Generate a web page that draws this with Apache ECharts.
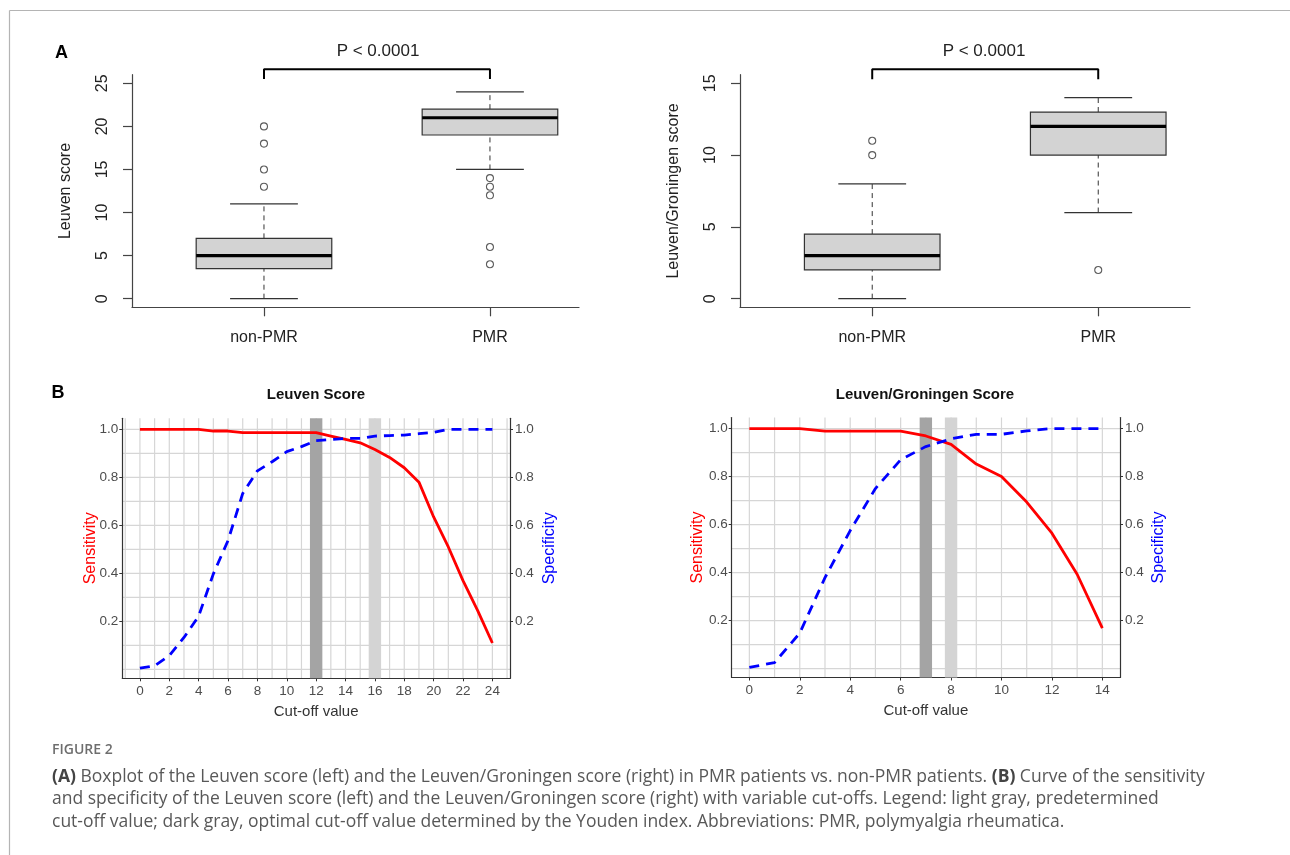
<!DOCTYPE html>
<html>
<head>
<meta charset="utf-8">
<title>Figure 2</title>
<script src="https://cdn.jsdelivr.net/npm/echarts@6.0.0/dist/echarts.min.js"></script>
<style>
  html, body { margin: 0; padding: 0; background: #fff; }
  #chart { width: 1290px; height: 855px; }
</style>
</head>
<body>
<div id="chart"></div>
<script>
// ---- data ----
var boxCats = ['non-PMR', 'PMR']
// [position, lower whisker, Q1, median, Q3, upper whisker]
var leuvenBox = [[1, 0, 3.5, 5, 7, 11], [2, 15, 19, 21, 22, 24]]
var leuvenOut = [[1, 13], [1, 15], [1, 18], [1, 20], [2, 14], [2, 13], [2, 12], [2, 6], [2, 4]]
var lgBox = [[1, 0, 2, 3, 4.5, 8], [2, 6, 10, 12, 13, 14]]
var lgOut = [[1, 10], [1, 11], [2, 2]]
var leuvenTicks = [0, 5, 10, 15, 20, 25]
var lgTicks = [0, 5, 10, 15]

var leuvenCut = [0, 1, 2, 3, 4, 5, 6, 7, 8, 9, 10, 11, 12, 13, 14, 15, 16, 17, 18, 19, 20, 21, 22, 23, 24]
var leuvenSens = [1, 1, 1, 1, 1, 0.993, 0.993, 0.986, 0.986, 0.986, 0.986, 0.986, 0.986, 0.972, 0.958, 0.944, 0.916, 0.883, 0.84, 0.78, 0.635, 0.51, 0.37, 0.245, 0.11]
var leuvenSpec = [0.005, 0.015, 0.057, 0.133, 0.222, 0.398, 0.537, 0.733, 0.827, 0.865, 0.907, 0.928, 0.953, 0.958, 0.962, 0.962, 0.972, 0.974, 0.976, 0.982, 0.987, 1, 1, 1, 1]
var lgCut = [0, 1, 2, 3, 4, 5, 6, 7, 8, 9, 10, 11, 12, 13, 14]
var lgSens = [1, 1, 1, 0.989, 0.989, 0.989, 0.989, 0.969, 0.934, 0.852, 0.8, 0.694, 0.564, 0.393, 0.169]
var lgSpec = [0.005, 0.025, 0.148, 0.379, 0.575, 0.75, 0.87, 0.925, 0.957, 0.976, 0.976, 0.99, 1, 1, 1]

var leuvenYouden = 12
var leuvenPre = 16
var lgYouden = 7
var lgPre = 8

var probTicks = [0.2, 0.4, 0.6, 0.8, 1.0]
var leuvenXTicks = [0, 2, 4, 6, 8, 10, 12, 14, 16, 18, 20, 22, 24]
var lgXTicks = [0, 2, 4, 6, 8, 10, 12, 14]

var FONT = 'Liberation Sans, Arial, sans-serif'

// the ggplot tick labels are narrow; use a narrow face if there is one
function hasFont (name) {
  var ctx = document.createElement('canvas').getContext('2d')
  ctx.font = '20px monospace'
  var base = ctx.measureText('0.123456789 abc').width
  ctx.font = '20px "' + name + '", monospace'
  return ctx.measureText('0.123456789 abc').width !== base
}
var NARROW = hasFont('Liberation Sans Narrow')
var TICKFONT = NARROW ? '"Liberation Sans Narrow", sans-serif' : FONT
var TICKSIZE = NARROW ? 15.5 : 13.5

// grid lines of the ggplot panels (every unit / every 0.1)
function range (a, b, step) {
  var out = []
  for (var v = a; v <= b + 1e-9; v += step) out.push(+v.toFixed(2))
  return out
}
var leuvenGridX = range(-1, 25, 1)
var lgGridX = range(0, 14, 1)
var probGrid = range(0, 1, 0.1)

// ---- render helpers ----
function boxItem (params, api) {
  var x = api.value(0)
  var lo = api.coord([x, api.value(1)])
  var q1 = api.coord([x, api.value(2)])
  var md = api.coord([x, api.value(3)])
  var q3 = api.coord([x, api.value(4)])
  var hi = api.coord([x, api.value(5)])
  var hw = api.size([0.3, 0])[0]
  var cw = hw / 2
  var cx = lo[0]
  var ink = '#333'
  var dashed = { stroke: ink, lineWidth: 1, lineDash: [5, 4] }
  var solid = { stroke: ink, lineWidth: 1.2 }
  return {
    type: 'group',
    children: [
      { type: 'line', shape: { x1: cx, y1: lo[1], x2: cx, y2: q1[1] }, style: dashed },
      { type: 'line', shape: { x1: cx, y1: q3[1], x2: cx, y2: hi[1] }, style: dashed },
      { type: 'line', shape: { x1: cx - cw, y1: lo[1], x2: cx + cw, y2: lo[1] }, style: solid },
      { type: 'line', shape: { x1: cx - cw, y1: hi[1], x2: cx + cw, y2: hi[1] }, style: solid },
      { type: 'rect', shape: { x: cx - hw, y: q3[1], width: hw * 2, height: q1[1] - q3[1] }, style: { fill: '#d3d3d3', stroke: ink, lineWidth: 1.2 } },
      { type: 'line', shape: { x1: cx - hw, y1: md[1], x2: cx + hw, y2: md[1] }, style: { stroke: '#000', lineWidth: 3.2 } }
    ]
  }
}

function vGrid (params, api) {
  var cs = params.coordSys
  var p = api.coord([api.value(0), 0.5])
  return { type: 'line', shape: { x1: p[0], y1: cs.y, x2: p[0], y2: cs.y + cs.height }, style: { stroke: '#d6d6d6', lineWidth: 1.2 } }
}
function hGrid (params, api) {
  var cs = params.coordSys
  var p = api.coord([0, api.value(1)])
  return { type: 'line', shape: { x1: cs.x, y1: p[1], x2: cs.x + cs.width, y2: p[1] }, style: { stroke: '#d6d6d6', lineWidth: 1.2 } }
}
function bandItem (color) {
  return function (params, api) {
    var cs = params.coordSys
    var p = api.coord([api.value(0), 0.5])
    return { type: 'rect', shape: { x: p[0] - 6.2, y: cs.y, width: 12.4, height: cs.height }, style: { fill: color } }
  }
}

function zip (xs, ys) {
  return xs.map(function (x, i) { return [x, ys[i]] })
}

// ---- axes ----
function boxX (grid, min, max) {
  return {
    type: 'value', gridIndex: grid, min: min, max: max,
    axisLine: { onZero: false, lineStyle: { color: '#444', width: 1.2 } },
    axisTick: { customValues: [1, 2], length: 9, lineStyle: { color: '#444', width: 1.2 } },
    axisLabel: { customValues: [1, 2], margin: 22, color: '#222', fontSize: 16, fontFamily: FONT, formatter: function (v) { return boxCats[Math.round(v) - 1] } },
    splitLine: { show: false }
  }
}
function boxY (grid, min, max, ticks, name) {
  return {
    type: 'value', gridIndex: grid, min: min, max: max,
    name: name, nameLocation: 'middle', nameGap: 58, nameMoveOverlap: false,
    nameTextStyle: { color: '#222', fontSize: 16, fontFamily: FONT },
    axisLine: { show: true, onZero: false, lineStyle: { color: '#444', width: 1.2 } },
    axisTick: { show: true, customValues: ticks, length: 9, lineStyle: { color: '#444', width: 1.2 } },
    axisLabel: { customValues: ticks, rotate: 90, margin: 21, color: '#222', fontSize: 16, fontFamily: FONT },
    splitLine: { show: false }
  }
}
function cutX (grid, min, max, ticks) {
  return {
    type: 'value', gridIndex: grid, min: min, max: max,
    name: 'Cut-off value', nameLocation: 'middle', nameGap: 26, nameMoveOverlap: false,
    nameTextStyle: { color: '#333', fontSize: 15, fontFamily: FONT },
    axisLine: { onZero: false, lineStyle: { color: '#333', width: 1.2 } },
    axisTick: { customValues: ticks, length: 3, lineStyle: { color: '#333' } },
    axisLabel: { customValues: ticks, margin: 6, color: '#4d4d4d', fontSize: TICKSIZE, fontFamily: TICKFONT },
    splitLine: { show: false }
  }
}
function probY (grid, pos, name, color, gap) {
  return {
    type: 'value', gridIndex: grid, position: pos, min: -0.037, max: 1.046,
    name: name, nameLocation: 'middle', nameGap: gap, nameMoveOverlap: false,
    nameTextStyle: { color: color, fontSize: 16, fontFamily: FONT },
    axisLine: { show: true, onZero: false, lineStyle: { color: '#333', width: 1.2 } },
    axisTick: { show: true, customValues: probTicks, length: 3, lineStyle: { color: '#333' } },
    axisLabel: { customValues: probTicks, margin: pos === 'left' ? 4 : 5, color: '#4d4d4d', fontSize: TICKSIZE, fontFamily: TICKFONT, formatter: function (v) { return v.toFixed(1) } },
    splitLine: { show: false }
  }
}

// ---- series builders ----
function boxSeries (xi, yi, box, out, bracketLo, bracketHi) {
  return [
    { type: 'custom', xAxisIndex: xi, yAxisIndex: yi, data: box, renderItem: boxItem, silent: true, z: 2 },
    {
      type: 'scatter', xAxisIndex: xi, yAxisIndex: yi, data: out, symbol: 'circle', symbolSize: 7, silent: true, z: 3,
      itemStyle: { color: 'rgba(255,255,255,0)', borderColor: '#333', borderWidth: 1.1 }
    },
    {
      type: 'line', xAxisIndex: xi, yAxisIndex: yi, clip: false, showSymbol: false, silent: true, z: 3,
      data: [[1, bracketLo], [1, bracketHi], [2, bracketHi], [2, bracketLo]],
      lineStyle: { color: '#000', width: 2 }
    }
  ]
}
function cutSeries (xi, yl, yr, gridX, cut, sens, spec, youden, pre) {
  return [
    { type: 'custom', xAxisIndex: xi, yAxisIndex: yl, data: gridX.map(function (v) { return [v, 0.5] }), renderItem: vGrid, silent: true, z: 0 },
    { type: 'custom', xAxisIndex: xi, yAxisIndex: yl, data: probGrid.map(function (v) { return [0, v] }), renderItem: hGrid, silent: true, z: 0 },
    { type: 'custom', xAxisIndex: xi, yAxisIndex: yl, data: [[youden, 0.5]], renderItem: bandItem('#a4a4a4'), silent: true, z: 1 },
    { type: 'custom', xAxisIndex: xi, yAxisIndex: yl, data: [[pre, 0.5]], renderItem: bandItem('#d4d4d4'), silent: true, z: 1 },
    {
      name: 'Sensitivity', type: 'line', xAxisIndex: xi, yAxisIndex: yl, data: zip(cut, sens), showSymbol: false, silent: true, z: 4,
      lineStyle: { color: '#ff0000', width: 2.8 }
    },
    {
      name: 'Specificity', type: 'line', xAxisIndex: xi, yAxisIndex: yr, data: zip(cut, spec), showSymbol: false, silent: true, z: 4,
      lineStyle: { color: '#0000ff', width: 2.8, type: [10, 7] }
    }
  ]
}

function label (text, x, y, size, weight, color, align) {
  return {
    type: 'text', x: x, y: y, silent: true,
    style: { text: text, fontSize: size, fontWeight: weight || 'normal', fontFamily: FONT, fill: color || '#000', align: align || 'center', verticalAlign: 'middle' }
  }
}
var CAP = 'Open Sans, Liberation Sans, sans-serif'
function capLine (text, y) {
  return {
    type: 'text', x: 52, y: y, silent: true,
    style: {
      text: text, fontSize: 17.5, fontFamily: CAP, fill: '#585858', align: 'left', verticalAlign: 'middle',
      rich: { b: { fontSize: 17.5, fontFamily: CAP, fontWeight: 'bold', fill: '#444' } }
    }
  }
}

var myChart = echarts.init(document.getElementById('chart'))
myChart.setOption({
  animation: false,
  backgroundColor: '#fff',
  grid: [
    { left: 132, top: 74.7, width: 447, height: 232.6 },
    { left: 740, top: 74.7, width: 450, height: 232.6 },
    { left: 122.3, top: 418.3, width: 387.7, height: 260 },
    { left: 731.7, top: 417.5, width: 388.3, height: 260 }
  ],
  xAxis: [
    boxX(0, 0.416, 2.394),
    boxX(1, 0.415, 2.406),
    cutX(2, -1.2, 25.2, leuvenXTicks),
    cutX(3, -0.7, 14.7, lgXTicks)
  ],
  yAxis: [
    boxY(0, -1, 26, leuvenTicks, 'Leuven score'),
    boxY(1, -0.6, 15.6, lgTicks, 'Leuven/Groningen score'),
    probY(2, 'left', 'Sensitivity', '#ff0000', 24),
    probY(2, 'right', 'Specificity', '#0000ff', 32),
    probY(3, 'left', 'Sensitivity', '#ff0000', 26),
    probY(3, 'right', 'Specificity', '#0000ff', 31)
  ],
  series: [].concat(
    boxSeries(0, 0, leuvenBox, leuvenOut, 25.5, 26.63),
    boxSeries(1, 1, lgBox, lgOut, 15.28, 15.98),
    cutSeries(2, 2, 3, leuvenGridX, leuvenCut, leuvenSens, leuvenSpec, leuvenYouden, leuvenPre),
    cutSeries(3, 4, 5, lgGridX, lgCut, lgSens, lgSpec, lgYouden, lgPre)
  ),
  graphic: [
    { type: 'line', silent: true, shape: { x1: 9.5, y1: 10.5, x2: 1290, y2: 10.5 }, style: { stroke: '#b4b4b4', lineWidth: 1.2 } },
    { type: 'line', silent: true, shape: { x1: 9.5, y1: 10.5, x2: 9.5, y2: 855 }, style: { stroke: '#b4b4b4', lineWidth: 1.2 } },
    label('A', 61.5, 53, 18, 'bold'),
    label('B', 58, 393, 18, 'bold'),
    label('P < 0.0001', 378, 51.7, 17, 'normal', '#222'),
    label('P < 0.0001', 984, 51.7, 17, 'normal', '#222'),
    label('Leuven Score', 316, 395, 15, 'bold', '#111'),
    label('Leuven/Groningen Score', 925, 394.5, 15, 'bold', '#111'),
    {
      type: 'text', x: 52, y: 750, silent: true,
      style: { text: 'FIGURE 2', fontSize: 14, fontWeight: 600, fontFamily: CAP, fill: '#6e6e6e', align: 'left', verticalAlign: 'middle' }
    },
    capLine('{b|(A)} Boxplot of the Leuven score (left) and the Leuven/Groningen score (right) in PMR patients vs. non-PMR patients. {b|(B)} Curve of the sensitivity', 777),
    capLine('and specificity of the Leuven score (left) and the Leuven/Groningen score (right) with variable cut-offs. Legend: light gray, predetermined', 799.5),
    capLine('cut-off value; dark gray, optimal cut-off value determined by the Youden index. Abbreviations: PMR, polymyalgia rheumatica.', 822)
  ]
}, true)
</script>
</body>
</html>
